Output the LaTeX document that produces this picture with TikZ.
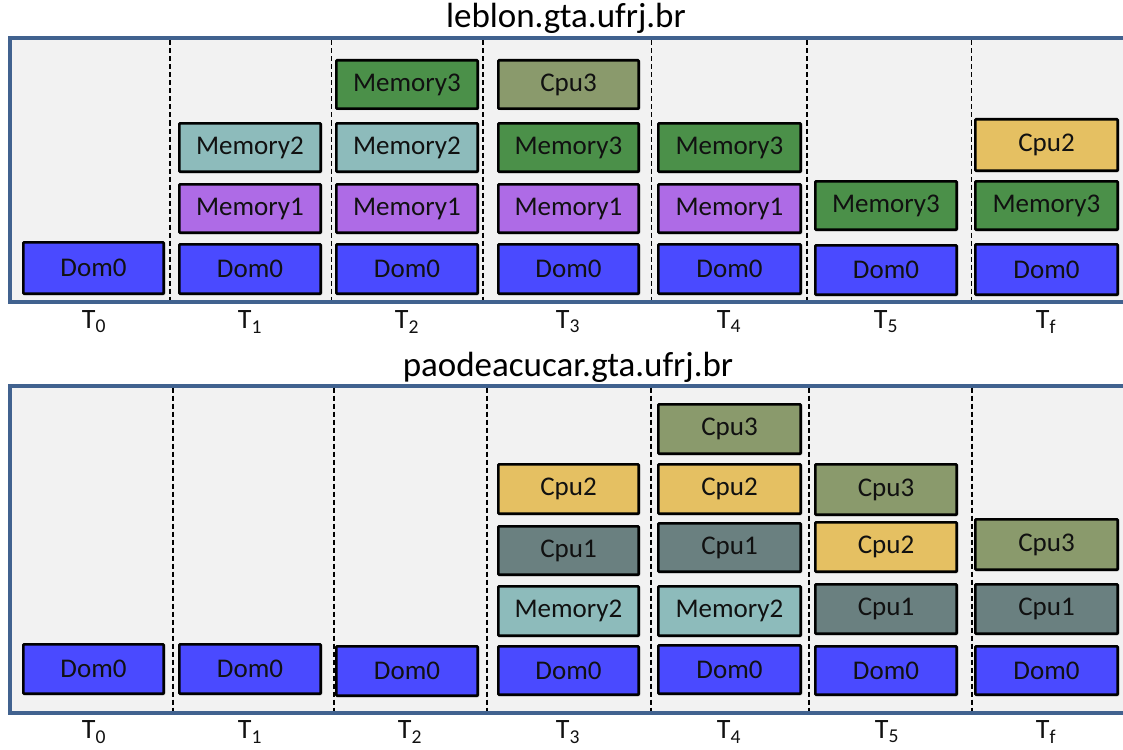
\documentclass[tikz,border=0pt]{standalone}
\usepackage{fontspec}
\setmainfont{Carlito}
\usetikzlibrary{shadows}
\definecolor{cdom}{HTML}{4A4AFF}
\definecolor{cmemA}{HTML}{AE6BE6}
\definecolor{cmemB}{HTML}{8DBBBB}
\definecolor{cmemC}{HTML}{4B9049}
\definecolor{ccpuA}{HTML}{6A8080}
\definecolor{ccpuB}{HTML}{E5C062}
\definecolor{ccpuC}{HTML}{8A9A6C}
\definecolor{cpanel}{HTML}{F2F2F2}
\definecolor{cborder}{HTML}{41628F}
\definecolor{ctext}{HTML}{111111}
\tikzset{
  box/.style={draw=black, line width=2.6pt, rounded corners=0.8pt, inner sep=0pt,
    text=ctext, font=\fontsize{27}{31}\selectfont,
    drop shadow={shadow xshift=1.5pt, shadow yshift=-1.5pt, opacity=0.3, fill=black}},
  dom/.style={box, fill=cdom},
  memA/.style={box, fill=cmemA},
  memB/.style={box, fill=cmemB},
  memC/.style={box, fill=cmemC},
  cpuA/.style={box, fill=ccpuA},
  cpuB/.style={box, fill=ccpuB},
  cpuC/.style={box, fill=ccpuC},
  panel/.style={fill=cpanel, draw=cborder, line width=4pt},
  sep/.style={draw=black, line width=1.1pt, dash pattern=on 5pt off 3pt},
  tlabel/.style={font=\fontsize{28}{32}\selectfont, text=ctext, inner sep=0pt},
  title/.style={font=\fontsize{35}{40}\selectfont, text=black, inner sep=0pt, anchor=base}
}
\newcommand\bx[7]{\node[#6, minimum width={(#4-#2-2.6)*1pt}, minimum height={(#5-#3-2.6)*1pt}] (#1) at ({(#2+#4)/2},{-(#3+#5)/2}) {#7};}
\begin{document}
\begin{tikzpicture}[x=1pt,y=1pt]
\useasboundingbox (0,0) rectangle (1123,-749);
% ---------- top panel ----------
\node[title] (t1) at (566,-28) {leblon.gta.ufrj.br};
\fill[cpanel] (10,-38.5) rectangle (1130,-301.5);
\draw[cborder, line width=4pt] (1130,-38.5) -- (10,-38.5) -- (10,-301.5) -- (1130,-301.5);
\foreach \xx in {170,331.5,483,651.5,807,971.5}{
  \draw[sep] (\xx,-40.5) -- (\xx,-299.5);
}
\bx{a0d}{22}{241}{165}{295}{dom}{Dom0}
\bx{a1d}{178}{243}{322}{295}{dom}{Dom0}
\bx{a1m1}{178}{183}{322}{234}{memA}{Memory1}
\bx{a1m2}{178}{122}{322}{173}{memB}{Memory2}
\bx{a2d}{335}{243}{479}{295}{dom}{Dom0}
\bx{a2m1}{335}{183}{479}{234}{memA}{Memory1}
\bx{a2m2}{335}{122}{479}{173}{memB}{Memory2}
\bx{a2m3}{335}{59}{479}{110}{memC}{Memory3}
\bx{a3d}{497}{243}{640}{295}{dom}{Dom0}
\bx{a3m1}{497}{183}{640}{234}{memA}{Memory1}
\bx{a3m3}{497}{122}{640}{173}{memC}{Memory3}
\bx{a3c3}{497}{59}{640}{110}{cpuC}{Cpu3}
\bx{a4d}{657}{243}{802}{295}{dom}{Dom0}
\bx{a4m1}{657}{183}{802}{234}{memA}{Memory1}
\bx{a4m3}{657}{122}{802}{173}{memC}{Memory3}
\bx{a5d}{814}{244}{958}{296}{dom}{Dom0}
\bx{a5m3}{814}{180}{958}{231}{memC}{Memory3}
\bx{afd}{974}{243}{1119}{296}{dom}{Dom0}
\bx{afm3}{974}{180}{1119}{231}{memC}{Memory3}
\bx{afc2}{974}{118}{1119}{172}{cpuB}{Cpu2}
\node[tlabel] (aT0) at (94,-322) {T\textsubscript{0}};
\node[tlabel] (aT1) at (250,-322) {T\textsubscript{1}};
\node[tlabel] (aT2) at (407,-322) {T\textsubscript{2}};
\node[tlabel] (aT3) at (568,-322) {T\textsubscript{3}};
\node[tlabel] (aT4) at (729,-322) {T\textsubscript{4}};
\node[tlabel] (aT5) at (886,-322) {T\textsubscript{5}};
\node[tlabel] (aTf) at (1046,-322) {T\textsubscript{f}};
% ---------- bottom panel ----------
\node[title] (t2) at (568,-376) {paodeacucar.gta.ufrj.br};
\fill[cpanel] (10,-385.5) rectangle (1130,-712.5);
\draw[cborder, line width=4pt] (1130,-385.5) -- (10,-385.5) -- (10,-712.5) -- (1130,-712.5);
\foreach \xx in {173,334,487,651,809,972}{
  \draw[sep] (\xx,-387.5) -- (\xx,-710.5);
}
\bx{b0d}{22}{643}{165}{695}{dom}{Dom0}
\bx{b1d}{178}{643}{322}{695}{dom}{Dom0}
\bx{b2d}{335}{645}{479}{697}{dom}{Dom0}
\bx{b3d}{497}{645}{640}{696}{dom}{Dom0}
\bx{b3m2}{497}{585}{640}{637}{memB}{Memory2}
\bx{b3c1}{497}{525}{640}{576}{cpuA}{Cpu1}
\bx{b3c2}{497}{463}{640}{515}{cpuB}{Cpu2}
\bx{b4d}{657}{644}{802}{695}{dom}{Dom0}
\bx{b4m2}{657}{585}{802}{637}{memB}{Memory2}
\bx{b4c1}{657}{522}{802}{573}{cpuA}{Cpu1}
\bx{b4c2}{657}{463}{802}{515}{cpuB}{Cpu2}
\bx{b4c3}{657}{403}{802}{455}{cpuC}{Cpu3}
\bx{b5d}{814}{645}{958}{696}{dom}{Dom0}
\bx{b5c1}{814}{583}{958}{635}{cpuA}{Cpu1}
\bx{b5c2}{814}{521}{958}{573}{cpuB}{Cpu2}
\bx{b5c3}{814}{463}{958}{516}{cpuC}{Cpu3}
\bx{bfd}{974}{645}{1119}{696}{dom}{Dom0}
\bx{bfc1}{974}{583}{1119}{635}{cpuA}{Cpu1}
\bx{bfc3}{974}{518}{1119}{571}{cpuC}{Cpu3}
\node[tlabel] (bT0) at (94,-732) {T\textsubscript{0}};
\node[tlabel] (bT1) at (250,-732) {T\textsubscript{1}};
\node[tlabel] (bT2) at (410,-732) {T\textsubscript{2}};
\node[tlabel] (bT3) at (568,-732) {T\textsubscript{3}};
\node[tlabel] (bT4) at (729,-732) {T\textsubscript{4}};
\node[tlabel] (bT5) at (887,-732) {T\textsubscript{5}};
\node[tlabel] (bTf) at (1046,-732) {T\textsubscript{f}};
\end{tikzpicture}
\end{document}
